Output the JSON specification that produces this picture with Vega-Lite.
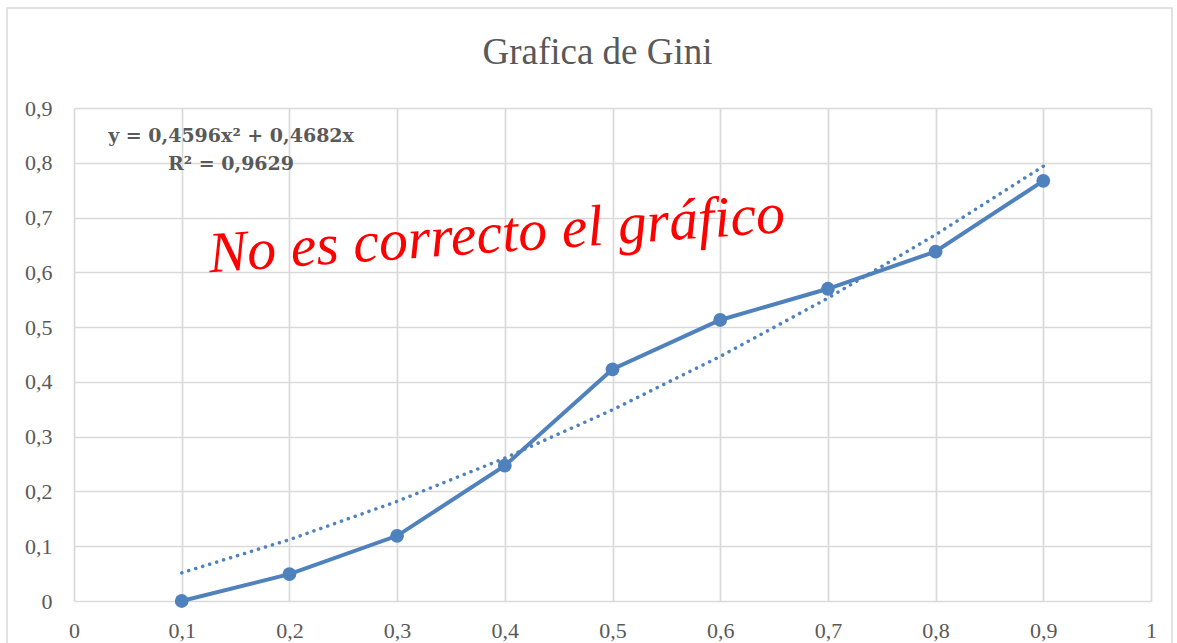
{
  "$schema": "https://vega.github.io/schema/vega-lite/v6.json",
  "width": 1077,
  "height": 493,
  "autosize": {"type": "none"},
  "padding": {"left": 74, "top": 108, "right": 26, "bottom": 42},
  "background": "white",
  "config": {
    "view": {"stroke": null},
    "axis": {
      "grid": true,
      "gridColor": "#d9d9d9",
      "gridWidth": 1.7,
      "domain": false,
      "ticks": false,
      "tickSize": 0,
      "labelFont": "Liberation Serif",
      "labelFontSize": 22,
      "labelColor": "#595959",
      "labelFlush": false,
      "labelOverlap": false,
      "title": null
    }
  },
  "title": {
    "text": "Grafica de Gini",
    "font": "Liberation Serif",
    "fontSize": 37,
    "fontWeight": "normal",
    "color": "#595959",
    "anchor": "middle",
    "baseline": "alphabetic",
    "offset": -94,
    "dx": -15
  },
  "datasets": {
    "gini": [
      {"x": 0.1, "y": 0.0},
      {"x": 0.2, "y": 0.049},
      {"x": 0.3, "y": 0.119},
      {"x": 0.4, "y": 0.247},
      {"x": 0.5, "y": 0.423},
      {"x": 0.6, "y": 0.513},
      {"x": 0.7, "y": 0.57},
      {"x": 0.8, "y": 0.638},
      {"x": 0.9, "y": 0.767}
    ],
    "trend": [
      {"x": 0.1, "y": 0.0514},
      {"x": 0.2, "y": 0.112},
      {"x": 0.3, "y": 0.1818},
      {"x": 0.4, "y": 0.2608},
      {"x": 0.5, "y": 0.349},
      {"x": 0.6, "y": 0.4464},
      {"x": 0.7, "y": 0.5529},
      {"x": 0.8, "y": 0.6687},
      {"x": 0.9, "y": 0.7937}
    ],
    "notes": [
      {"equation": ["y = 0,4596x² + 0,4682x", "R² = 0,9629"], "comment": "No es correcto el gráfico"}
    ]
  },
  "layer": [
    {
      "data": {"name": "trend"},
      "mark": {"type": "line", "color": "#4f81bd", "strokeWidth": 3.5, "strokeDash": [0.1, 7.2], "strokeCap": "round"},
      "encoding": {
        "x": {
          "field": "x", "type": "quantitative",
          "scale": {"domain": [0, 1], "nice": false},
          "axis": {"values": [0, 0.1, 0.2, 0.3, 0.4, 0.5, 0.6, 0.7, 0.8, 0.9, 1], "labelBaseline": "alphabetic", "labelPadding": 36, "labelExpr": "replace(format(datum.value, '.1~f'), '.', ',')"}
        },
        "y": {
          "field": "y", "type": "quantitative",
          "scale": {"domain": [0, 0.9], "nice": false},
          "axis": {"values": [0, 0.1, 0.2, 0.3, 0.4, 0.5, 0.6, 0.7, 0.8, 0.9], "labelPadding": 22, "labelExpr": "replace(format(datum.value, '.1~f'), '.', ',')"}
        }
      }
    },
    {
      "data": {"name": "notes"},
      "mark": {"type": "rect", "fill": null, "fillOpacity": 0, "stroke": "#d9d9d9", "strokeWidth": 1.5, "clip": false},
      "encoding": {
        "x": {"datum": -0.0622, "type": "quantitative"},
        "x2": {"datum": 1.0195},
        "y": {"datum": 1.0825, "type": "quantitative"},
        "y2": {"datum": -0.12}
      }
    },
    {
      "data": {"name": "gini"},
      "mark": {"type": "line", "color": "#4f81bd", "strokeWidth": 4},
      "encoding": {
        "x": {"field": "x", "type": "quantitative"},
        "y": {"field": "y", "type": "quantitative"}
      }
    },
    {
      "data": {"name": "gini"},
      "mark": {"type": "circle", "color": "#4f81bd", "opacity": 1, "size": 190},
      "encoding": {
        "x": {"field": "x", "type": "quantitative"},
        "y": {"field": "y", "type": "quantitative"}
      }
    },
    {
      "data": {"name": "notes"},
      "mark": {"type": "text", "font": "DejaVu Serif", "fontSize": 19, "fontWeight": "bold", "color": "#595959", "align": "center", "baseline": "alphabetic", "lineHeight": 28},
      "encoding": {
        "x": {"datum": 0.1458, "type": "quantitative"},
        "y": {"datum": 0.838, "type": "quantitative"},
        "text": {"field": "equation"}
      }
    },
    {
      "data": {"name": "notes"},
      "mark": {"type": "text", "font": "Liberation Serif", "fontSize": 58, "fontStyle": "italic", "color": "#ff0000", "align": "left", "baseline": "alphabetic", "angle": -4},
      "encoding": {
        "x": {"datum": 0.126, "type": "quantitative"},
        "y": {"datum": 0.6, "type": "quantitative"},
        "text": {"field": "comment"}
      }
    }
  ]
}
